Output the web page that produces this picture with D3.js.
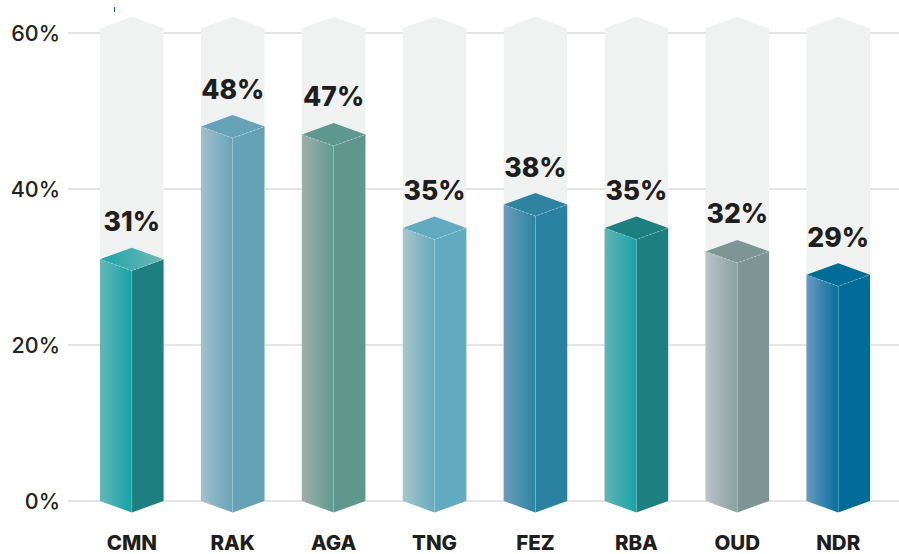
<!DOCTYPE html>
<html>
<head>
<meta charset="utf-8">
<script src="https://cdn.jsdelivr.net/npm/d3@7"></script>
<style>
  body { margin: 0; background: #fff; }
  svg { display: block; font-family: Inter, "Open Sans", sans-serif; }
</style>
</head>
<body>
<div id="chart"></div>
<script>
// data
const categories = ["CMN", "RAK", "AGA", "TNG", "FEZ", "RBA", "OUD", "NDR"];
const values = [31, 48, 47, 35, 38, 35, 32, 29];
const yTicks = [0, 20, 40, 60];
const bgMax = 60.6; // light grey "track" behind each bar

// colours per bar: left face gradient (light -> dark), right face, top
const palette = [
  { l0: "#63b7b9", l1: "#15a3a6", right: "#1f7f80", top0: "#18a3a6", top1: "#72b9b9" },
  { l0: "#a1c0cd", l1: "#6aa4b8", right: "#66a2b5", top0: "#66a3b6", top1: "#66a3b6" },
  { l0: "#9eafaa", l1: "#5f9b90", right: "#5f978d", top0: "#5f988e", top1: "#5f988e" },
  { l0: "#abc5cc", l1: "#62abc0", right: "#62aac0", top0: "#62aac0", top1: "#62aac0" },
  { l0: "#6c9cba", l1: "#2b84a2", right: "#2b82a0", top0: "#2e84a0", top1: "#2e84a0" },
  { l0: "#63b4b7", l1: "#15a3a6", right: "#1e7f80", top0: "#1e7f80", top1: "#1e7f80" },
  { l0: "#bdc2c9", l1: "#8aa0a0", right: "#7e9596", top0: "#7e9596", top1: "#7e9596" },
  { l0: "#6a9ac3", l1: "#056e9b", right: "#016c98", top0: "#016c98", top1: "#016c98" }
];

const width = 899, height = 554;
const depth = 11.5; // half height of the rhombus cap

const svg = d3.select("#chart").append("svg")
  .attr("width", width)
  .attr("height", height);

const x = d3.scaleBand()
  .domain(categories)
  .range([100, 870])
  .paddingInner(0.37)
  .paddingOuter(0);

const y = d3.scaleLinear()
  .domain([0, 60])
  .range([501, 33]);

// gradients
const defs = svg.append("defs");
palette.forEach((p, i) => {
  const g = defs.append("linearGradient").attr("id", "left-" + i)
    .attr("x1", "0%").attr("x2", "100%").attr("y1", "0%").attr("y2", "0%");
  g.append("stop").attr("offset", "0%").attr("stop-color", p.l0);
  g.append("stop").attr("offset", "100%").attr("stop-color", p.l1);
  const t = defs.append("linearGradient").attr("id", "top-" + i)
    .attr("x1", "0%").attr("x2", "100%").attr("y1", "0%").attr("y2", "0%");
  t.append("stop").attr("offset", "0%").attr("stop-color", p.top0);
  t.append("stop").attr("offset", "100%").attr("stop-color", p.top1);
});

// grid lines
svg.append("g")
  .selectAll("line")
  .data(yTicks)
  .join("line")
  .attr("x1", 68)
  .attr("x2", width)
  .attr("y1", d => y(d))
  .attr("y2", d => y(d))
  .attr("stroke", "#dcdcdc")
  .attr("stroke-width", 1.5);

// y labels
svg.append("g")
  .selectAll("text")
  .data(yTicks)
  .join("text")
  .attr("x", 60)
  .attr("y", d => y(d) + 8)
  .attr("text-anchor", "end")
  .attr("font-size", 21.5)
  .attr("font-weight", 500)
  .attr("fill", "#222")
  .text(d => d + "%");

const rows = categories.map((c, i) => ({ c, v: values[i], i }));
const bw = x.bandwidth();

const bars = svg.append("g")
  .selectAll("g")
  .data(rows)
  .join("g");

// background track
bars.append("path")
  .attr("fill", "#f0f1f1")
  .attr("d", d => {
    const x0 = x(d.c), x1 = x0 + bw, xc = x0 + bw / 2;
    return `M${x0},${y(0)}L${x0},${y(bgMax)}L${xc},${y(bgMax) - depth}L${x1},${y(bgMax)}L${x1},${y(0)}L${xc},${y(0) + depth}Z`;
  });

// left face
bars.append("path")
  .attr("fill", d => `url(#left-${d.i})`)
  .attr("d", d => {
    const x0 = x(d.c), xc = x0 + bw / 2;
    return `M${x0},${y(d.v)}L${xc},${y(d.v) + depth}L${xc},${y(0) + depth}L${x0},${y(0)}Z`;
  });

// right face
bars.append("path")
  .attr("fill", d => palette[d.i].right)
  .attr("d", d => {
    const x0 = x(d.c), x1 = x0 + bw, xc = x0 + bw / 2;
    return `M${xc},${y(d.v) + depth}L${x1},${y(d.v)}L${x1},${y(0)}L${xc},${y(0) + depth}Z`;
  });

// front edge
bars.append("line")
  .attr("x1", d => x(d.c) + bw / 2)
  .attr("x2", d => x(d.c) + bw / 2)
  .attr("y1", d => y(d.v) + depth)
  .attr("y2", d => y(0) + depth)
  .attr("stroke", "#fff")
  .attr("stroke-opacity", 0.2)
  .attr("stroke-width", 1);

// top cap
bars.append("path")
  .attr("fill", d => `url(#top-${d.i})`)
  .attr("d", d => {
    const x0 = x(d.c), x1 = x0 + bw, xc = x0 + bw / 2;
    return `M${x0},${y(d.v)}L${xc},${y(d.v) - depth}L${x1},${y(d.v)}L${xc},${y(d.v) + depth}Z`;
  });

// dashed edges on the cap
bars.append("path")
  .attr("fill", "none")
  .attr("stroke", "#fff")
  .attr("stroke-opacity", 0.35)
  .attr("stroke-width", 1)
  .attr("stroke-dasharray", "2,2")
  .attr("d", d => {
    const x0 = x(d.c), x1 = x0 + bw, xc = x0 + bw / 2;
    return `M${x0},${y(d.v)}L${xc},${y(d.v) + depth}L${x1},${y(d.v)}`;
  });

// value labels
bars.append("text")
  .attr("x", d => x(d.c) + bw / 2)
  .attr("y", d => y(d.v) - 28)
  .attr("text-anchor", "middle")
  .attr("font-size", 26.5)
  .attr("font-weight", 800)
  .attr("fill", "#1e1e1e")
  .text(d => d.v + "%");

// category labels
svg.append("g")
  .selectAll("text")
  .data(categories)
  .join("text")
  .attr("x", d => x(d) + bw / 2)
  .attr("y", 550)
  .attr("text-anchor", "middle")
  .attr("font-size", 20.5)
  .attr("font-weight", 800)
  .attr("fill", "#1e1e1e")
  .text(d => d);

// small mark at the top left
svg.append("line")
  .attr("x1", 114.5).attr("x2", 114.5)
  .attr("y1", 7).attr("y2", 12)
  .attr("stroke", "#1b5d73")
  .attr("stroke-width", 1);
</script>
</body>
</html>
